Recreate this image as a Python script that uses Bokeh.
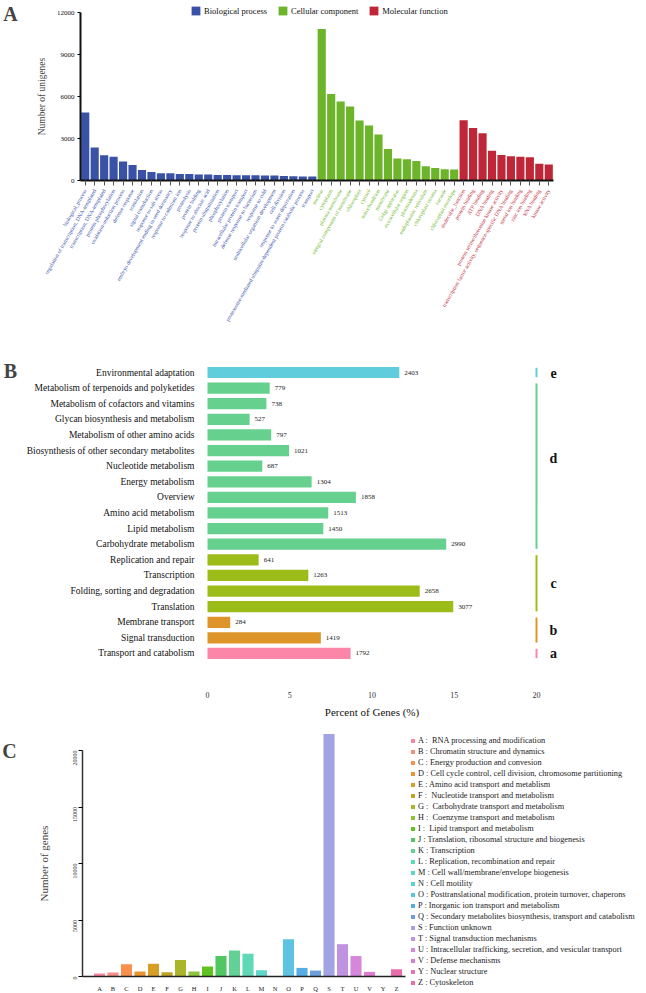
import math
from bokeh.plotting import figure
from bokeh.layouts import column
from bokeh.models import (ColumnDataSource, FixedTicker, LabelSet, Label,
                          Legend, LegendItem, Range1d)
from bokeh.embed import file_html
from bokeh.resources import INLINE
from bokeh.core.properties import value

SERIF = "Liberation Serif"

# ---------------- Panel A data (GO) ----------------
bp_terms = ["biological_process", "regulation of transcription, DNA-templated",
            "transcription, DNA-templated", "protein phosphorylation",
            "oxidation-reduction process", "defense response", "translation",
            "signal transduction", "response to salt stress",
            "embryo development ending in seed dormancy", "response to cadmium ion",
            "proteolysis", "protein folding", "response to abscisic acid",
            "protein ubiquitination", "phosphorylation", "protein transport",
            "intracellular protein transport", "defense response to bacterium",
            "response to cold", "multicellular organism development", "cell division",
            "response to water deprivation",
            "proteasome-mediated ubiquitin-dependent protein catabolic process",
            "transport"]
bp_counts = [4850, 2350, 1800, 1690, 1360, 1100, 750, 610, 520, 515, 470, 465,
             430, 420, 400, 395, 380, 375, 370, 355, 350, 330, 300, 290, 285]
cc_terms = ["nucleus", "cytoplasm", "plasma membrane", "integral component of membrane",
            "chloroplast", "cytosol", "mitochondrion", "membrane", "Golgi apparatus",
            "extracellular region", "plasmodesma", "endoplasmic reticulum",
            "chloroplast stroma", "vacuole", "chloroplast envelope"]
cc_counts = [10820, 6180, 5640, 5290, 4290, 3930, 3280, 2250, 1570, 1520, 1400,
             1010, 890, 800, 780]
mf_terms = ["molecular_function", "protein binding", "ATP binding", "DNA binding",
            "protein serine/threonine kinase activity",
            "transcription factor activity, sequence-specific DNA binding",
            "metal ion binding", "zinc ion binding", "RNA binding", "kinase activity"]
mf_counts = [4310, 3750, 3370, 2130, 1830, 1735, 1690, 1660, 1195, 1150]
go_groups = ["Biological process", "Cellular component", "Molecular function"]
a_yticks = [0, 3000, 6000, 9000, 12000]

# ---------------- Panel B data (KEGG) ----------------
b_categories = ["Environmental adaptation", "Metabolism of terpenoids and polyketides",
                "Metabolism of cofactors and vitamins", "Glycan biosynthesis and metabolism",
                "Metabolism of other amino acids", "Biosynthesis of other secondary metabolites",
                "Nucleotide metabolism", "Energy metabolism", "Overview",
                "Amino acid metabolism", "Lipid metabolism", "Carbohydrate metabolism",
                "Replication and repair", "Transcription", "Folding, sorting and degradation",
                "Translation", "Membrane transport", "Signal transduction",
                "Transport and catabolism"]
b_counts = [2403, 779, 738, 527, 797, 1021, 687, 1304, 1858, 1513, 1450, 2990,
            641, 1263, 2658, 3077, 284, 1419, 1792]
b_percent = [11.66, 3.78, 3.58, 2.56, 3.87, 4.96, 3.33, 6.33, 9.02, 7.34, 7.04, 14.51,
             3.11, 6.13, 12.90, 14.94, 1.38, 6.89, 8.70]
b_groups = ["e", "d", "d", "d", "d", "d", "d", "d", "d", "d", "d", "d",
            "c", "c", "c", "c", "b", "b", "a"]
b_xticks = [0, 5, 10, 15, 20]

# ---------------- Panel C data (KOG) ----------------
c_codes = ["A", "B", "C", "D", "E", "F", "G", "H", "I", "J", "K", "L", "M", "N",
           "O", "P", "Q", "S", "T", "U", "V", "Y", "Z"]
c_names = [" RNA processing and modification", "Chromatin structure and dynamics",
           "Energy production and convesion",
           "Cell cycle control, cell division, chromosome partitioning",
           "Amino acid transport and metablism", " Nucleotide transport and metabolism",
           " Carbohydrate transport and metabolism", " Coenzyme transport and metabolism",
           " Lipid transport and metabolism",
           "Translation, ribosomal structure and biogenesis", "Transcription",
           "Replication, recombination and repair",
           "Cell wall/membrane/envelope biogenesis", "Cell motility",
           "Posttranslational modification, protein turnover, chaperons",
           "Inorganic ion transport and metabolism",
           "Secondary metabolites biosynthesis, transport and catabolism",
           "Function unknown", "Signal transduction mechanisms",
           "Intracellular trafficking, secretion, and vesicular transport",
           "Defense mechanisms", "Nuclear structure", "Cytoskeleton"]
c_counts = [263, 350, 1080, 438, 1138, 380, 1460, 438, 876, 1810, 2306, 2014, 555, 10,
            3298, 759, 525, 21455, 2861, 1810, 409, 15, 642]
c_yticks = [0, 5000, 10000, 15000, 20000]

# ---------------- styles ----------------
A_COLORS = ["#3a52a6", "#6cb42a", "#bf2637"]
A_LABEL_COLORS = ["#4a60b0", "#7cbc3c", "#c43b4c"]
B_COLORS = {"e": "#5fcddb", "d": "#66d08e", "c": "#9cbd19", "b": "#dd9428", "a": "#fb86a8"}
C_COLORS = ["#f7879c", "#f58e84", "#f9904e", "#e69530", "#d69e24", "#bfa126", "#aab52a",
            "#8cc53b", "#5ec221", "#50c761", "#63d196", "#5fd8b5", "#5ed6c9", "#5ccfd8",
            "#5ec3e3", "#55ade3", "#6c9fdb", "#a2a3e3", "#c093e0", "#d588da", "#de7ccf",
            "#e872c0", "#eb6eac"]

W = 645


class Map:
    """Page-pixel <-> data mapping for a figure whose frame fills the whole canvas."""

    def __init__(self, top, height, x_px_ref, x_val_ref, x_ppu, y_px_ref, y_val_ref, y_ppu):
        self.top, self.height = top, height
        self.x0 = x_val_ref - x_px_ref / x_ppu
        self.x_ppu = x_ppu
        self.y1 = y_val_ref + (y_px_ref - top) / y_ppu
        self.y_ppu = y_ppu

    def x_range(self):
        return Range1d(self.x0, self.x0 + W / self.x_ppu)

    def y_range(self):
        return Range1d(self.y1 - self.height / self.y_ppu, self.y1)

    def x(self, px):
        return self.x0 + px / self.x_ppu

    def y(self, py):
        return self.y1 - (py - self.top) / self.y_ppu


def make_fig(m):
    p = figure(width=W, height=m.height, x_range=m.x_range(), y_range=m.y_range(),
               output_backend="svg", toolbar_location=None, title=None,
               min_border=0, min_border_left=0, min_border_right=0,
               min_border_top=0, min_border_bottom=0)
    p.grid.visible = False
    p.outline_line_color = None
    p.background_fill_color = "white"
    p.border_fill_color = "white"
    return p


# ================= Panel A =================
nA = len(bp_terms) + len(cc_terms) + len(mf_terms)
mA = Map(top=0, height=345, x_px_ref=80, x_val_ref=-0.5, x_ppu=473 / nA,
         y_px_ref=180, y_val_ref=0, y_ppu=0.014)
pA = make_fig(mA)
items = []
start = 0
for gi, (terms, counts) in enumerate([(bp_terms, bp_counts), (cc_terms, cc_counts),
                                      (mf_terms, mf_counts)]):
    xs = list(range(start, start + len(terms)))
    src = ColumnDataSource(dict(x=xs, top=counts, term=terms))
    r = pA.vbar(x="x", top="top", width=0.86, source=src,
                fill_color=A_COLORS[gi], line_color=None)
    items.append(LegendItem(label=go_groups[gi], renderers=[r]))
    pA.add_layout(LabelSet(x="x", y=0, text="term", source=src, y_offset=-9,
                           angle=60, angle_units="deg", text_align="right",
                           text_baseline="middle", text_font_size="5.6px",
                           text_font=value(SERIF), text_color=A_LABEL_COLORS[gi]))
    start += len(terms)

legA = Legend(items=items, orientation="horizontal", location=(190, 345 - 16),
              glyph_width=11, glyph_height=11, label_height=11, label_standoff=3,
              spacing=10, padding=0, margin=0, border_line_color=None,
              background_fill_alpha=0, label_text_font=SERIF,
              label_text_font_size="8.5px", label_text_color="#111")
pA.add_layout(legA)

xa = pA.xaxis[0]
xa.fixed_location = 0
xa.bounds = (-0.5, nA - 0.5)
xa.ticker = FixedTicker(ticks=list(range(nA)))
xa.major_label_overrides = {i: "" for i in range(nA)}
xa.major_tick_out = 5
xa.major_tick_in = 0
xa.major_tick_line_color = "#555555"
xa.minor_tick_line_color = None
xa.axis_line_color = "#111111"
xa.axis_line_width = 2

ya = pA.yaxis[0]
ya.fixed_location = -0.5
ya.bounds = (a_yticks[0], a_yticks[-1])
ya.ticker = FixedTicker(ticks=a_yticks)
ya.major_label_text_font = SERIF
ya.major_label_text_font_size = "7px"
ya.major_label_text_color = "#111"
ya.major_tick_out = 3
ya.major_tick_in = 0
ya.major_label_standoff = 3
ya.minor_tick_line_color = None
ya.axis_line_color = "#111111"
ya.axis_line_width = 2
ya.axis_label = "Number of unigenes"
ya.axis_label_text_font = SERIF
ya.axis_label_text_font_size = "9.5px"
ya.axis_label_text_font_style = "normal"
ya.axis_label_standoff = 7

pA.add_layout(Label(x=mA.x(10), y=mA.y(13), text="A", text_font=SERIF,
                    text_font_style="bold", text_font_size="20px",
                    text_align="center", text_baseline="middle"))

# ================= Panel B =================
nB = len(b_categories)
mB = Map(top=345, height=385, x_px_ref=207, x_val_ref=0, x_ppu=16.45,
         y_px_ref=372, y_val_ref=nB - 1, y_ppu=15.61)
pB = make_fig(mB)
yb = [nB - 1 - i for i in range(nB)]
srcB = ColumnDataSource(dict(y=yb, pct=b_percent, cnt=[str(c) for c in b_counts],
                             color=[B_COLORS[g] for g in b_groups]))
pB.hbar(y="y", left=0, right="pct", height=0.72, source=srcB, fill_color="color",
        line_color=None)
pB.text(x="pct", y="y", text="cnt", source=srcB, x_offset=5, text_baseline="middle",
        text_font=value(SERIF), text_font_size="7px", text_color="#222")

seg_x, seg_y0, seg_y1, seg_c, let_y, let_t = [], [], [], [], [], []
for g in ["e", "d", "c", "b", "a"]:
    ys = [yb[i] for i, gg in enumerate(b_groups) if gg == g]
    seg_x.append(b_xticks[-1])
    seg_y0.append(max(ys) + 0.3)
    seg_y1.append(min(ys) - 0.3)
    seg_c.append(B_COLORS[g])
    let_y.append(sum(ys) / len(ys) + (0.5 if len(ys) > 5 else 0))
    let_t.append(g)
pB.segment(x0=seg_x, x1=seg_x, y0=seg_y0, y1=seg_y1, line_color=seg_c, line_width=2)
pB.text(x=[mB.x(553)] * len(let_t), y=let_y, text=let_t,
        text_align="center", text_baseline="middle", text_font=value(SERIF),
        text_font_style="bold", text_font_size="14px", text_color="#111")

xb = pB.xaxis[0]
xb.fixed_location = mB.y(683)
xb.bounds = (b_xticks[0], b_xticks[-1])
xb.ticker = FixedTicker(ticks=b_xticks)
xb.axis_line_color = None
xb.major_tick_line_color = None
xb.minor_tick_line_color = None
xb.major_label_standoff = 2
xb.major_label_text_font = SERIF
xb.major_label_text_font_size = "8px"
xb.major_label_text_color = "#333333"
xb.axis_label = "Percent of Genes (%)"
xb.axis_label_text_font = SERIF
xb.axis_label_text_font_size = "11px"
xb.axis_label_text_font_style = "normal"
xb.axis_label_text_color = "#111"
xb.axis_label_standoff = 5

ybx = pB.yaxis[0]
ybx.fixed_location = 0
ybx.ticker = FixedTicker(ticks=yb)
ybx.major_label_overrides = {yb[i]: b_categories[i] for i in range(nB)}
ybx.axis_line_color = None
ybx.major_tick_line_color = None
ybx.minor_tick_line_color = None
ybx.major_label_standoff = 7
ybx.major_label_text_font = SERIF
ybx.major_label_text_font_size = "9.5px"
ybx.major_label_text_color = "#111"

pB.add_layout(Label(x=mB.x(10), y=mB.y(370), text="B", text_font=SERIF,
                    text_font_style="bold", text_font_size="20px",
                    text_align="center", text_baseline="middle"))

# ================= Panel C =================
nC = len(c_codes)
mC = Map(top=730, height=262, x_px_ref=99, x_val_ref=0, x_ppu=13.5,
         y_px_ref=976, y_val_ref=0, y_ppu=0.0113)
pC = make_fig(mC)
srcC = ColumnDataSource(dict(x=list(range(nC)), top=c_counts, color=C_COLORS))
rC = pC.vbar(x="x", top="top", width=0.82, source=srcC, fill_color="color",
             line_color=None)
legC = Legend(items=[LegendItem(label=f"{c_codes[i]} : {c_names[i]}", renderers=[rC], index=i)
                     for i in range(nC)],
              location=(410, 5), glyph_width=5, glyph_height=5, label_height=9,
              label_standoff=3, spacing=2, padding=0, margin=0, border_line_color=None,
              background_fill_alpha=0, label_text_font=SERIF, label_text_font_size="8.3px",
              label_text_color="#222")
pC.add_layout(legC)

xc = pC.xaxis[0]
xc.fixed_location = 0
xc.bounds = (mC.x(82), mC.x(405))
xc.ticker = FixedTicker(ticks=list(range(nC)))
xc.major_label_overrides = {i: c_codes[i] for i in range(nC)}
xc.major_tick_line_color = None
xc.minor_tick_line_color = None
xc.major_label_standoff = 2
xc.major_label_text_font = SERIF
xc.major_label_text_font_size = "6.5px"
xc.major_label_text_color = "#222"
xc.axis_line_color = "#222"
xc.axis_line_width = 1.5

ycx = pC.yaxis[0]
ycx.fixed_location = mC.x(82)
ycx.ticker = FixedTicker(ticks=c_yticks)
ycx.bounds = (c_yticks[0], c_yticks[-1])
ycx.major_label_orientation = math.pi / 2
ycx.major_label_text_font = SERIF
ycx.major_label_text_font_size = "6px"
ycx.major_label_text_color = "#333"
ycx.major_tick_out = 4
ycx.major_tick_in = 0
ycx.major_label_standoff = 4
ycx.minor_tick_line_color = None
ycx.axis_line_color = "#333"
ycx.axis_line_width = 1.5
ycx.axis_label = "Number of genes"
ycx.axis_label_text_font = SERIF
ycx.axis_label_text_font_size = "11px"
ycx.axis_label_text_font_style = "normal"
ycx.axis_label_standoff = 18

pC.add_layout(Label(x=mC.x(9), y=mC.y(750), text="C", text_font=SERIF,
                    text_font_style="bold", text_font_size="20px",
                    text_align="center", text_baseline="middle"))

layout = column(pA, pB, pC, spacing=0)
open("out.html", "w").write(file_html(layout, INLINE))
